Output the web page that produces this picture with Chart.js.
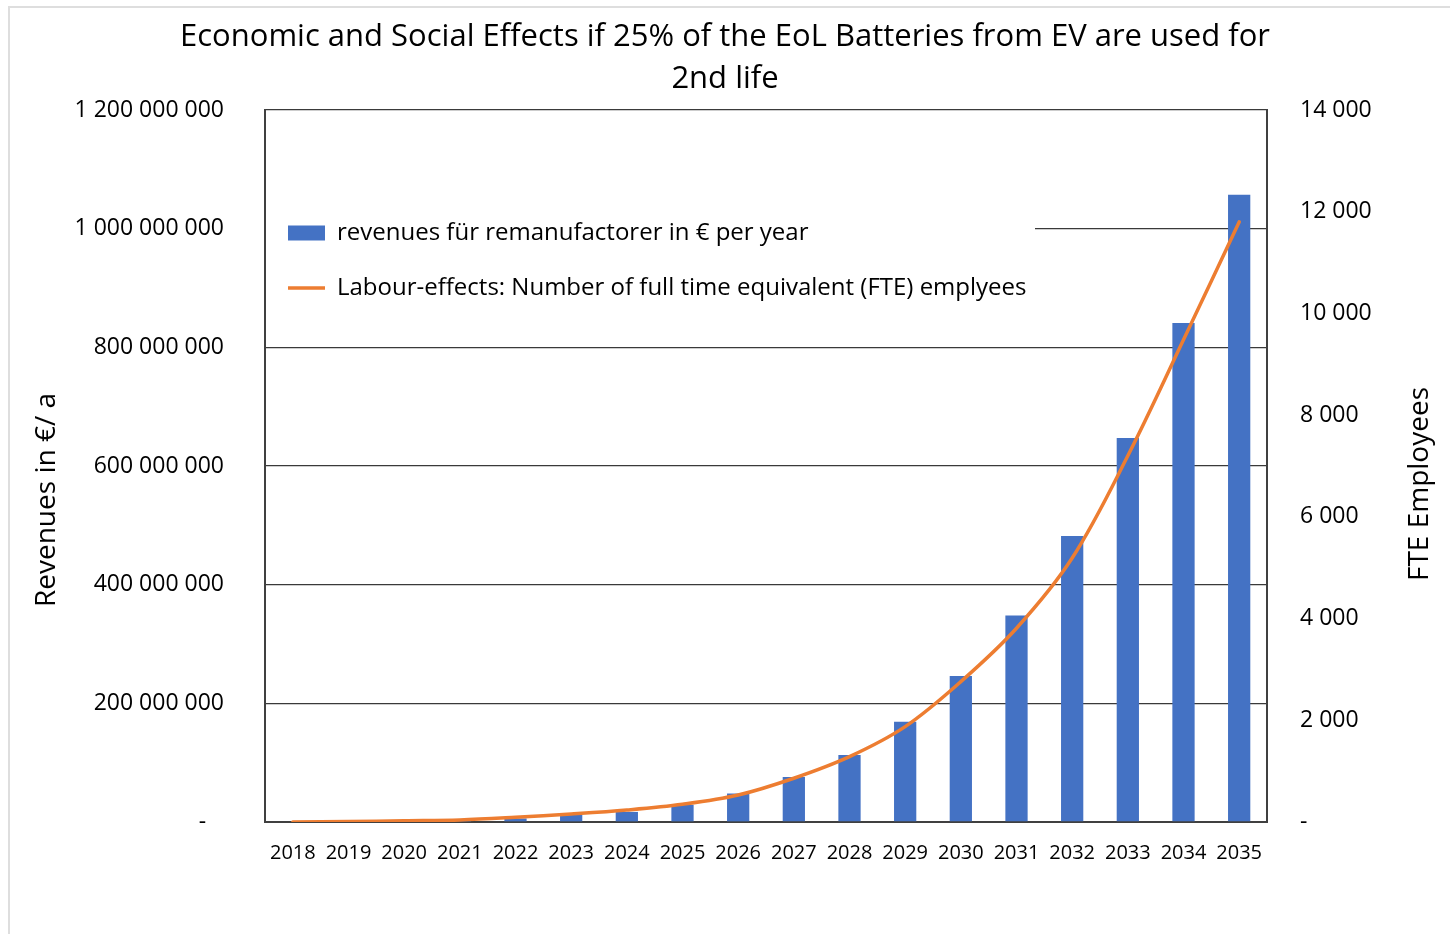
<!DOCTYPE html>
<html>
<head>
<meta charset="utf-8">
<script src="https://cdn.jsdelivr.net/npm/chart.js@4/dist/chart.umd.min.js"></script>
<style>
    html, body { margin: 0; padding: 0; background: #fff; overflow: hidden; }
    #wrap { position: relative; width: 1450px; height: 934px; }
    #frame { position: absolute; left: 8px; top: 6px; width: 1500px; height: 1000px;
             border-left: 2px solid #dedede; border-top: 2px solid #dedede; pointer-events: none; }
</style>
</head>
<body>
<div id="wrap">
    <canvas id="chart" width="1450" height="934"></canvas>
    <div id="frame"></div>
</div>
<script>
// Dati
const years = ["2018", "2019", "2020", "2021", "2022", "2023", "2024", "2025", "2026",
               "2027", "2028", "2029", "2030", "2031", "2032", "2033", "2034", "2035"];
const revenues = [0, 500000, 1000000, 2000000, 6000000, 12000000, 17000000, 29000000, 48000000,
                  76000000, 113000000, 169000000, 246000000, 348000000, 482000000, 647000000, 841000000, 1057000000];
const fteEmployees = [0, 10, 25, 40, 92, 157, 236, 348, 530,
                      860, 1285, 1875, 2760, 3810, 5190, 7200, 9480, 11800];
const titleLines = ["Economic and Social Effects if 25% of the EoL Batteries from EV are used for", "2nd life"];
const barLabel = "revenues für remanufactorer in € per year";
const lineLabel = "Labour-effects: Number of full time equivalent (FTE) emplyees";
const leftTitle = "Revenues in €/ a";
const rightTitle = "FTE Employees";

const FONT = "'Open Sans', sans-serif";
const TEXT = "#000000";

document.addEventListener("DOMContentLoaded", function () {
    renderChart();
});

// Numeri con spazio come separatore delle migliaia, zero come "-"
function formatNumber(value, zeroText) {
    if (value === 0) return zeroText;
    return Math.round(value).toString().replace(/\B(?=(\d{3})+(?!\d))/g, " ");
}

// Legenda dentro l'area del grafico, con sfondo bianco sopra la griglia
const legendPlugin = {
    id: "legendPlacement",
    afterLayout(chart) {
        const lg = chart.legend;
        lg.left = chart.chartArea.left - 8;
        lg.top = chart.chartArea.top + 80;
    },
    beforeDatasetsDraw(chart) {
        const ctx = chart.ctx;
        const area = chart.chartArea;
        ctx.save();
        ctx.fillStyle = "#ffffff";
        ctx.fillRect(area.left + 1, 205, 1035 - area.left - 1, 105);
        ctx.restore();
        chart.legend.draw(area);
    }
};

// Titoli degli assi, entrambi ruotati dal basso verso l'alto
const axisTitlePlugin = {
    id: "axisTitles",
    afterDraw(chart) {
        const ctx = chart.ctx;
        ctx.save();
        ctx.fillStyle = TEXT;
        ctx.font = "28px " + FONT;
        ctx.textAlign = "center";
        ctx.textBaseline = "middle";
        [[47, 500, leftTitle], [1420, 484, rightTitle]].forEach(function (t) {
            ctx.save();
            ctx.translate(t[0], t[1]);
            ctx.rotate(-Math.PI / 2);
            ctx.fillText(t[2], 0, 0);
            ctx.restore();
        });
        ctx.restore();
    }
};

function renderChart() {
    const ctx = document.getElementById("chart").getContext("2d");

    new Chart(ctx, {
        data: {
            labels: years,
            datasets: [{
                type: "bar",
                label: barLabel,
                data: revenues,
                backgroundColor: "#4472C4",
                borderWidth: 0,
                barPercentage: 0.4,
                categoryPercentage: 1.0,
                yAxisID: "y",
                order: 1
            }, {
                type: "line",
                label: lineLabel,
                data: fteEmployees,
                borderColor: "#ED7D31",
                backgroundColor: "#ED7D31",
                borderWidth: 3.5,
                borderCapStyle: "round",
                tension: 0.35,
                pointRadius: 0,
                fill: false,
                yAxisID: "y1",
                order: 0
            }]
        },
        options: {
            responsive: false,
            animation: false,
            devicePixelRatio: 1,
            layout: { padding: 0 },
            plugins: {
                title: {
                    display: true,
                    text: titleLines,
                    color: TEXT,
                    font: { family: FONT, size: 31, weight: "normal", lineHeight: 1.3548 },
                    padding: { top: 16, bottom: 10 }
                },
                legend: {
                    position: "chartArea",
                    align: "start",
                    labels: {
                        color: TEXT,
                        font: { family: FONT, size: 24 },
                        usePointStyle: true,
                        pointStyleWidth: 37,
                        boxHeight: 15,
                        padding: 31,
                        generateLabels: function (chart) {
                            const items = Chart.defaults.plugins.legend.labels.generateLabels(chart);
                            items.sort((a, b) => a.datasetIndex - b.datasetIndex);
                            items.forEach(item => {
                                item.pointStyle = item.datasetIndex === 0 ? "rect" : "line";
                            });
                            return items;
                        }
                    }
                },
                tooltip: { enabled: false }
            },
            scales: {
                x: {
                    offset: true,
                    grid: { display: false, drawTicks: false },
                    border: { display: true, color: "#404040", width: 2 },
                    ticks: { color: TEXT, font: { family: FONT, size: 20 }, padding: 19, maxRotation: 0, autoSkip: false },
                    afterFit: function (scale) { scale.height = 112; }
                },
                y: {
                    position: "left",
                    min: 0,
                    max: 1200000000,
                    grid: { color: "#3a3a3a", lineWidth: 1.3, drawTicks: false },
                    border: { display: true, color: "#404040", width: 2 },
                    ticks: {
                        stepSize: 200000000,
                        color: TEXT,
                        font: { family: FONT, size: 23 },
                        padding: 41,
                        callback: function (value) { return formatNumber(value, "-   "); }
                    },
                    afterFit: function (scale) { scale.width = 265; }
                },
                y1: {
                    position: "right",
                    min: 0,
                    max: 14000,
                    grid: { display: false, drawTicks: false },
                    border: { display: true, color: "#404040", width: 2 },
                    ticks: {
                        stepSize: 2000,
                        color: TEXT,
                        font: { family: FONT, size: 23 },
                        padding: 33,
                        callback: function (value) { return formatNumber(value, "-"); }
                    },
                    afterFit: function (scale) { scale.width = 183; }
                }
            }
        },
        plugins: [legendPlugin, axisTitlePlugin]
    });
}
</script>
</body>
</html>
